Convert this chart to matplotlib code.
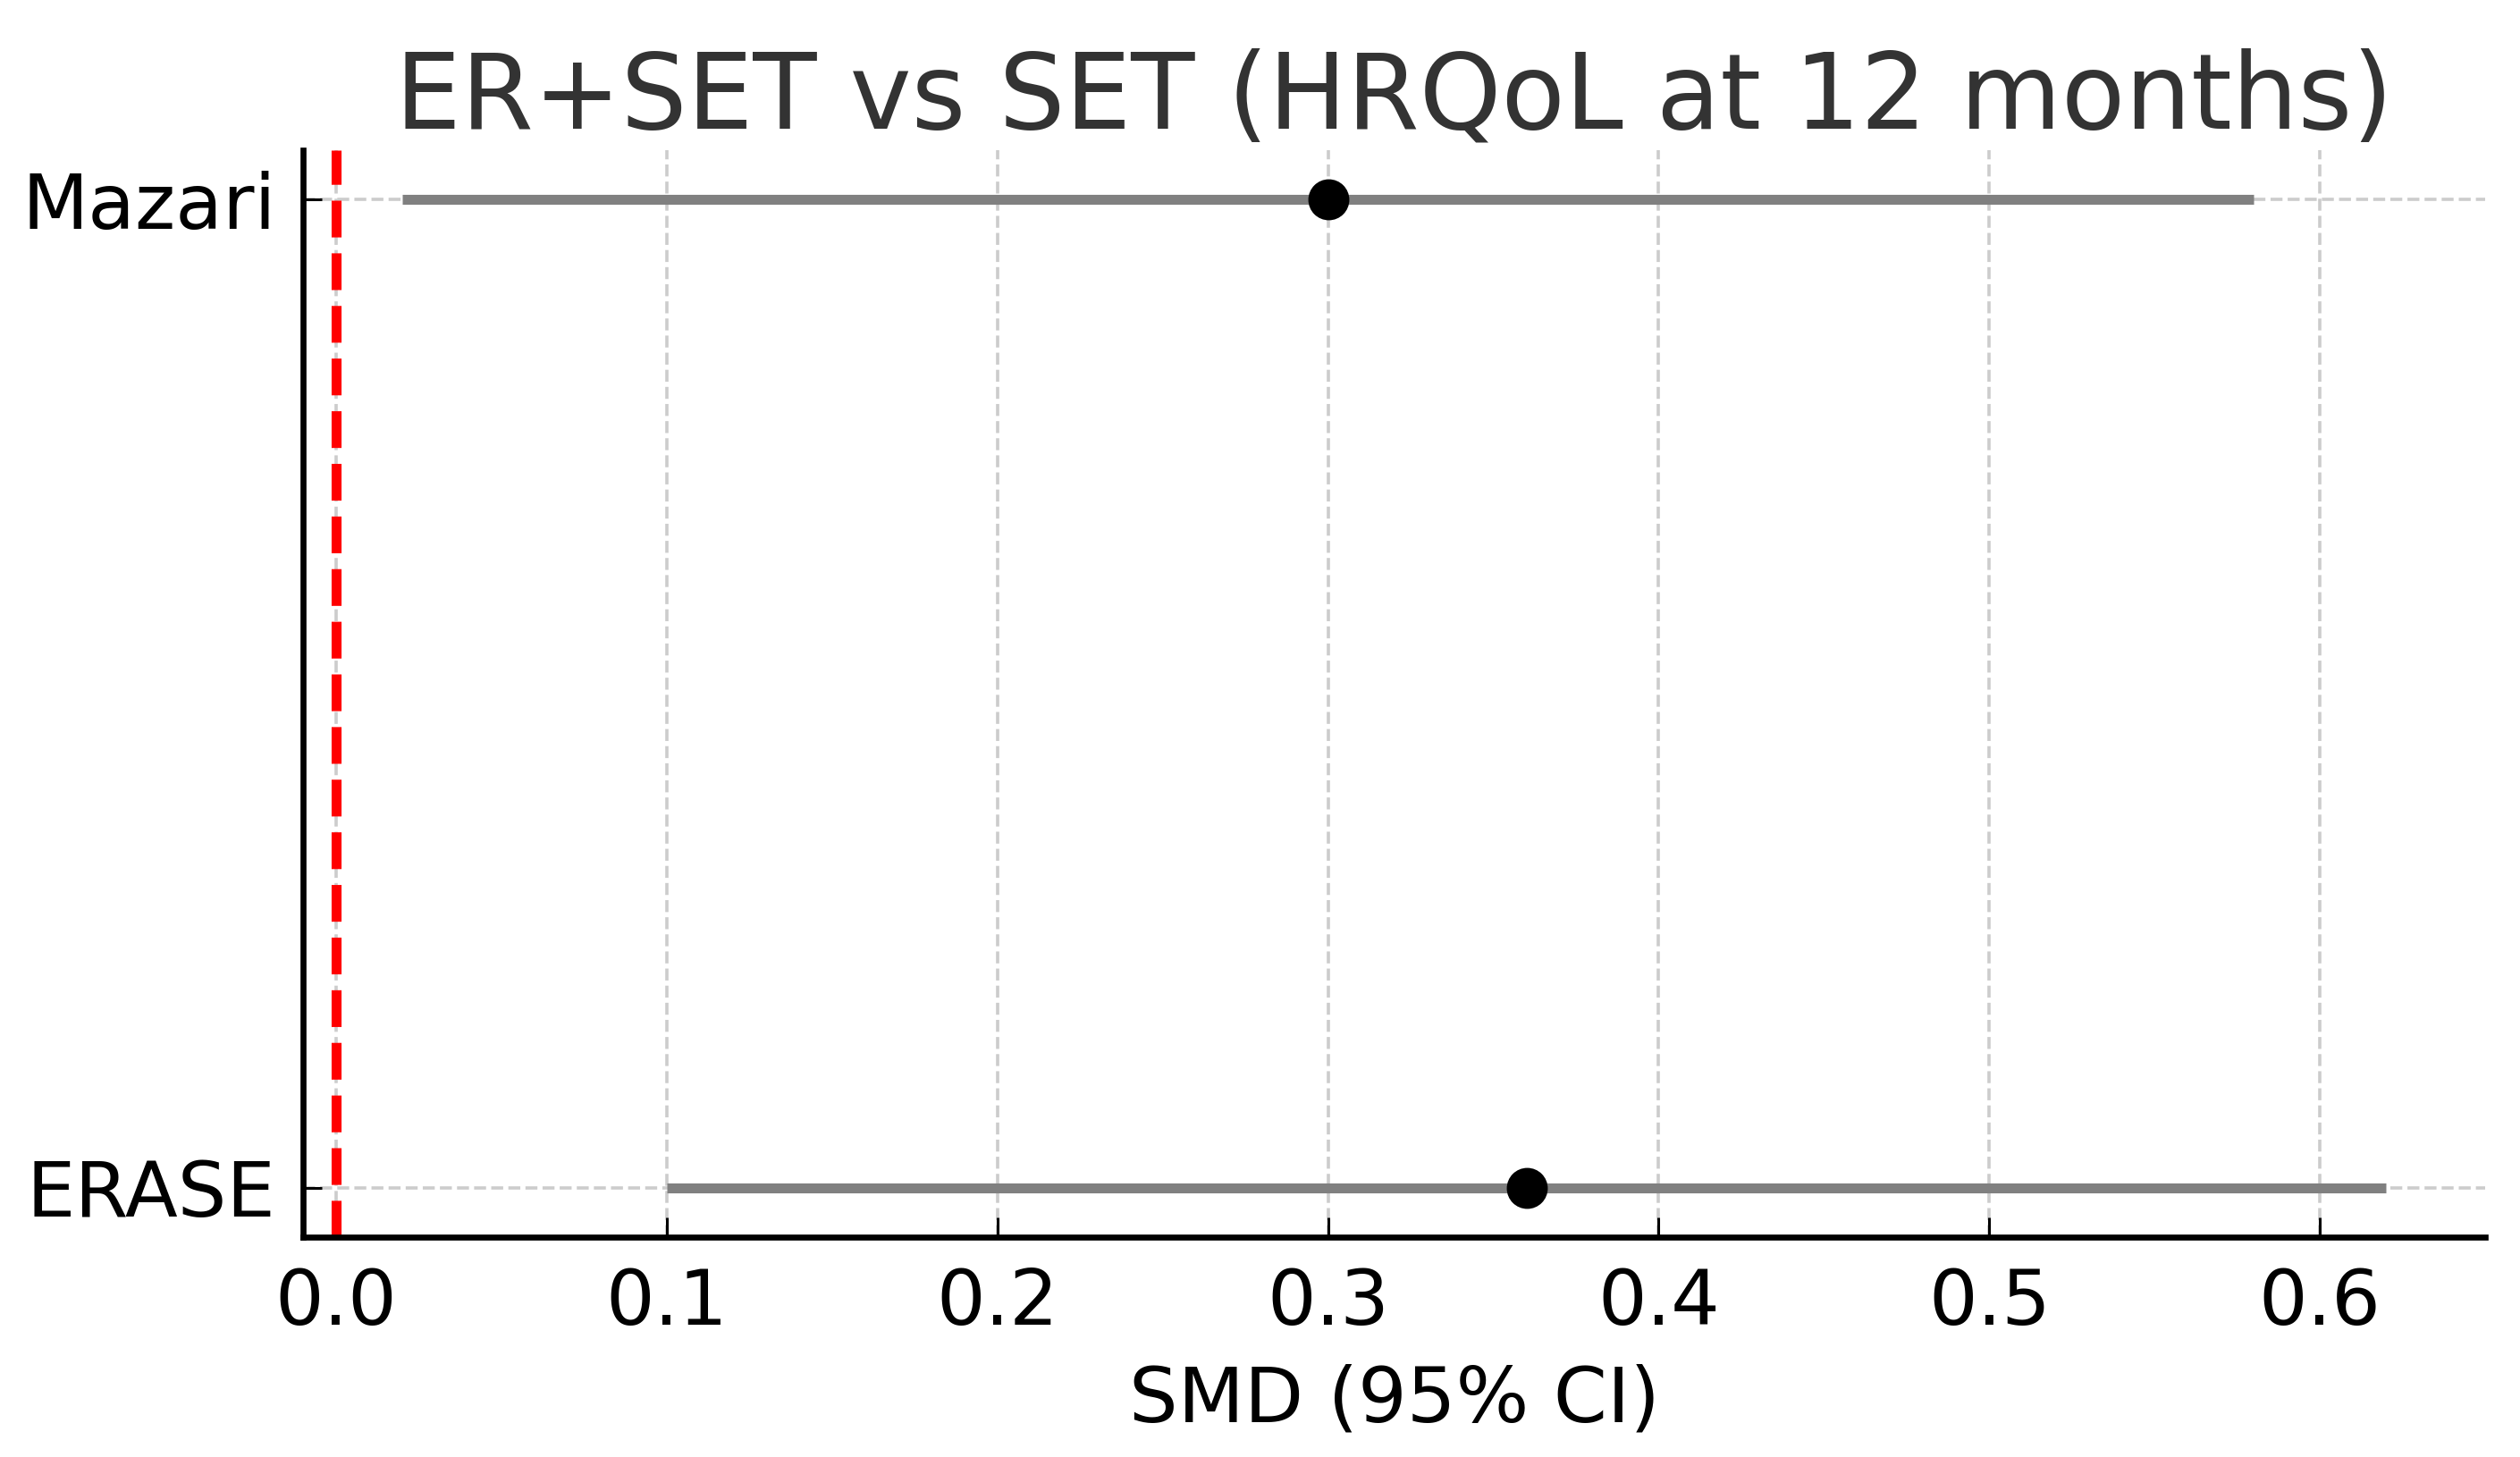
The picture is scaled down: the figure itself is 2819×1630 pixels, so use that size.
import numpy as np
import matplotlib
matplotlib.use("Agg")
import matplotlib.pyplot as plt

# forest plot data: SMD with 95% CI
studies = ["Mazari", "ERASE"]
smd = [0.30, 0.36]
ci_low = [0.02, 0.10]
ci_high = [0.58, 0.62]

fig = plt.figure(figsize=(2819 / 200, 1630 / 200), dpi=200)
ax = fig.add_axes([0.1203, 0.1509, 0.9862 - 0.1203, 0.8969 - 0.1509])

y = np.arange(len(studies))

ax.hlines(y, ci_low, ci_high, color="gray", linewidth=4, zorder=3)
ax.plot(smd, y, "o", color="black", markersize=15.5, zorder=4)
ax.axvline(0, color="red", linestyle="--", linewidth=4, zorder=2)

ax.set_yticks(y)
ax.set_yticklabels(studies)
ax.invert_yaxis()

ax.set_xlabel("SMD (95% CI)", fontsize=31, labelpad=9)
ax.set_title("ER+SET vs SET (HRQoL at 12 months)", fontsize=42, color="#333333", pad=5)

ax.grid(True, linestyle="--", color="#cccccc", linewidth=1.3)
ax.set_axisbelow(True)

ax.spines["top"].set_visible(False)
ax.spines["right"].set_visible(False)
ax.spines["left"].set_linewidth(2.4)
ax.spines["bottom"].set_linewidth(2.4)
ax.tick_params(axis="x", direction="in", length=8, width=1.1, labelsize=31, pad=12)
ax.tick_params(axis="y", direction="in", length=7.5, width=1.1, labelsize=31, pad=11)

fig.savefig("out.png", dpi=200)
